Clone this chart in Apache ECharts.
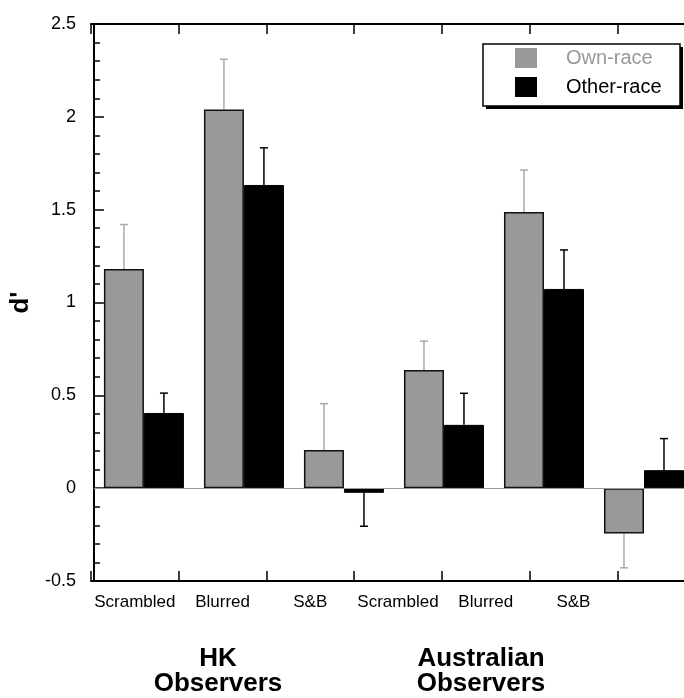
<!DOCTYPE html>
<html>
<head>
<meta charset="utf-8">
<script src="https://cdn.jsdelivr.net/npm/echarts@6/dist/echarts.min.js"></script>
<style>
  html, body { margin: 0; padding: 0; background: #fff; overflow: hidden; }
  #chart { width: 740px; height: 698px; }
</style>
</head>
<body>
<div id="chart"></div>
<script>
// ---- data ----
var categories = ['HK Scrambled', 'HK Blurred', 'HK S&B', 'AU Scrambled', 'AU Blurred', 'AU S&B'];
var tickLabels = ['Scrambled', 'Blurred', 'S&B', 'Scrambled', 'Blurred', 'S&B', ''];
var ownRace = [1.18, 2.04, 0.205, 0.637, 1.488, -0.244];
var otherRace = [0.405, 1.633, -0.025, 0.341, 1.073, 0.097];
var ownErr = [0.24, 0.27, 0.25, 0.155, 0.225, 0.185];
var otherErr = [0.107, 0.2, 0.18, 0.17, 0.21, 0.17];
var yTicks = { min: -0.5, max: 2.5, interval: 0.5 };
var groupLabels = ['HK\nObservers', 'Australian\nObservers'];

var FONT = '"Liberation Sans", Arial, Helvetica, sans-serif';
var GRAY = '#999999';

function errData(vals, errs) {
  return vals.map(function (v, i) { return [i, v, errs[i]]; });
}

function makeErrRender(offsetFrac, color) {
  return function (params, api) {
    var idx = api.value(0), v = api.value(1), e = api.value(2);
    var end = v >= 0 ? v + e : v - e;
    var band = api.size([1, 0])[0];
    var p0 = api.coord([idx, v]);
    var p1 = api.coord([idx, end]);
    var x = p0[0] + offsetFrac * band;
    var style = { stroke: color, lineWidth: 1.5 };
    return {
      type: 'group',
      children: [
        { type: 'line', shape: { x1: x, y1: p0[1], x2: x, y2: p1[1] }, style: style },
        { type: 'line', shape: { x1: x - 4, y1: p1[1], x2: x + 4, y2: p1[1] }, style: style }
      ]
    };
  };
}

var chart = echarts.init(document.getElementById('chart'));
var option = {
  animation: false,
  backgroundColor: '#fff',
  textStyle: { fontFamily: FONT },
  grid: [
    { left: 91, top: 24, width: 603, height: 557, containLabel: false },
    { left: 91, top: 24, width: 614, height: 557, containLabel: false }
  ],
  xAxis: [
    { type: 'category', gridIndex: 0, data: categories,
      axisLine: { show: false }, axisTick: { show: false }, axisLabel: { show: false }, splitLine: { show: false } },
    { type: 'category', gridIndex: 1, position: 'bottom', data: tickLabels,
      axisLine: { show: true, lineStyle: { color: '#000', width: 2 } },
      axisTick: { show: true, inside: true, length: 10, lineStyle: { color: '#000', width: 1.5 } },
      axisLabel: { color: '#000', fontSize: 17, fontFamily: FONT, margin: 13, interval: 0 },
      splitLine: { show: false } },
    { type: 'category', gridIndex: 1, position: 'top', data: tickLabels,
      axisLine: { show: true, lineStyle: { color: '#000', width: 2 } },
      axisTick: { show: true, inside: true, length: 10, lineStyle: { color: '#000', width: 1.5 } },
      axisLabel: { show: false }, splitLine: { show: false } }
  ],
  yAxis: [
    { type: 'value', gridIndex: 0, min: yTicks.min, max: yTicks.max, interval: yTicks.interval,
      name: "d'", nameLocation: 'middle', nameGap: 55, nameRotate: 90,
      nameTextStyle: { fontSize: 26, fontWeight: 'bold', color: '#000', fontFamily: FONT },
      axisLine: { show: true, lineStyle: { color: '#000', width: 2 } },
      axisTick: { show: true, inside: true, length: 10, lineStyle: { color: '#000', width: 1.5 } },
      minorTick: { show: true, splitNumber: 5, length: 6, lineStyle: { color: '#000', width: 1.5 } },
      axisLabel: { color: '#000', fontSize: 18, fontFamily: FONT, margin: 18 },
      splitLine: { show: false } },
    { type: 'value', gridIndex: 1, min: 0, max: 1, show: false }
  ],
  legend: {
    orient: 'vertical', left: 515, top: 48, padding: 0, itemGap: 9,
    itemWidth: 22, itemHeight: 20, icon: 'rect',
    data: [
      { name: 'Own-race', textStyle: { color: GRAY }, itemStyle: { borderWidth: 0 } },
      { name: 'Other-race', textStyle: { color: '#000' }, itemStyle: { borderWidth: 0 } }
    ],
    textStyle: { fontSize: 20, fontFamily: FONT, padding: [0, 0, 0, 24] },
    selectedMode: false
  },
  graphic: [
    { type: 'rect', z: 1, shape: { x: 486, y: 47, width: 197, height: 62 }, style: { fill: '#000' } },
    { type: 'rect', z: 2, shape: { x: 483, y: 44, width: 197, height: 62 }, style: { fill: '#fff', stroke: '#000', lineWidth: 1.5 } },
    { type: 'text', z: 10, x: 218, y: 646, style: { text: groupLabels[0], font: 'bold 26px ' + FONT, fill: '#000', textAlign: 'center', textVerticalAlign: 'top', lineHeight: 25 } },
    { type: 'text', z: 10, x: 481, y: 646, style: { text: groupLabels[1], font: 'bold 26px ' + FONT, fill: '#000', textAlign: 'center', textVerticalAlign: 'top', lineHeight: 25 } }
  ],
  series: [
    { name: 'Own-race', type: 'bar', xAxisIndex: 0, yAxisIndex: 0, data: ownRace,
      barWidth: '40%', barGap: '0%',
      itemStyle: { color: GRAY, borderColor: '#111', borderWidth: 1.5 },
      markLine: { silent: true, symbol: 'none', label: { show: false },
        lineStyle: { color: '#999', width: 1, type: 'solid' }, data: [{ yAxis: 0 }] },
      z: 3 },
    { name: 'Other-race', type: 'bar', xAxisIndex: 0, yAxisIndex: 0, data: otherRace,
      barWidth: '40%', barGap: '0%',
      itemStyle: { color: '#000', borderColor: '#000', borderWidth: 1 }, z: 3 },
    { type: 'custom', xAxisIndex: 0, yAxisIndex: 0, data: errData(ownRace, ownErr),
      renderItem: makeErrRender(-0.2, '#aaaaaa'), encode: { x: 0, y: 1 }, z: 2 },
    { type: 'custom', xAxisIndex: 0, yAxisIndex: 0, data: errData(otherRace, otherErr),
      renderItem: makeErrRender(0.2, '#000'), encode: { x: 0, y: 1 }, z: 2 }
  ]
};
chart.setOption(option);
</script>
</body>
</html>
